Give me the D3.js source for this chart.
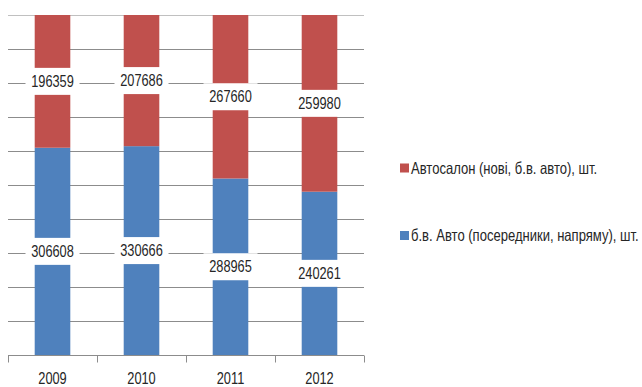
<!DOCTYPE html>
<html>
<head>
<meta charset="utf-8">
<script src="https://cdn.jsdelivr.net/npm/d3@7"></script>
<style>
  body { margin: 0; background: #fff; }
  svg text { font-family: 'Liberation Sans', Arial, sans-serif; fill: #262626; }
</style>
</head>
<body>
<div id="chart"></div>
<script>
const years = ['2009', '2010', '2011', '2012']
const salon = [196359, 207686, 267660, 259980]
const used = [306608, 330666, 288965, 240261]
const seriesNames = ['б.в. Авто (посередники, напряму), шт.', 'Автосалон (нові, б.в. авто), шт.']
const colors = ['#4F81BD', '#C0504D']

const width = 642
const height = 387
const plot = { left: 8, right: 364, top: 15, bottom: 355 }
// the source font is narrow, squeeze a wider one horizontally
const squeeze = 0.8

const rows = years.map((y, i) => ({ year: y, used: used[i], salon: salon[i] }))
const stack = d3.stack().keys(['used', 'salon']).offset(d3.stackOffsetExpand)
const layers = stack(rows)

const x = d3.scaleBand()
  .domain(years)
  .range([plot.left, plot.right])
  .paddingInner(0.6)
  .paddingOuter(0.3)

const y = d3.scaleLinear()
  .domain([0, 1])
  .range([plot.bottom, plot.top])

const svg = d3.select('#chart').append('svg')
  .attr('width', width)
  .attr('height', height)

function label (g, px, py, str, size, anchor) {
  return g.append('text')
    .attr('transform', 'translate(' + px + ',' + py + ') scale(' + squeeze + ',1)')
    .attr('dy', '0.35em')
    .attr('text-anchor', anchor || 'middle')
    .style('font-size', size + 'px')
    .text(str)
}

// gridlines
svg.append('g')
  .selectAll('line')
  .data(d3.range(1, 11).map(d => d / 10))
  .enter().append('line')
  .attr('x1', plot.left)
  .attr('x2', plot.right)
  .attr('y1', d => Math.round(y(d)) + 0.5)
  .attr('y2', d => Math.round(y(d)) + 0.5)
  .attr('stroke', d => d === 1 ? '#c0c0c0' : '#8c8c8c')
  .attr('stroke-width', 1)

// bars
svg.append('g')
  .selectAll('g')
  .data(layers)
  .enter().append('g')
  .attr('fill', (d, i) => colors[i])
  .selectAll('rect')
  .data(d => d)
  .enter().append('rect')
  .attr('x', d => x(d.data.year))
  .attr('width', x.bandwidth())
  .attr('y', d => y(d[1]))
  .attr('height', d => y(d[0]) - y(d[1]))

// x axis
const gx = svg.append('g')
  .attr('transform', 'translate(0,' + (plot.bottom + 0.5) + ')')
gx.append('line')
  .attr('x1', plot.left)
  .attr('x2', plot.right)
  .attr('stroke', '#8c8c8c')
const bounds = [plot.left].concat(years.map(yr => x(yr) + x.bandwidth() / 2 + x.step() / 2))
gx.selectAll('line.sep')
  .data(bounds)
  .enter().append('line')
  .attr('class', 'sep')
  .attr('x1', d => Math.round(d) + 0.5)
  .attr('x2', d => Math.round(d) + 0.5)
  .attr('y1', 0)
  .attr('y2', 7)
  .attr('stroke', '#8c8c8c')

const yearLabels = svg.append('g')
years.forEach(yr => label(yearLabels, x(yr) + x.bandwidth() / 2, 378, yr, 16))

// data labels
const labels = svg.append('g')
layers.forEach(layer => {
  layer.forEach(d => {
    const cx = x(d.data.year) + x.bandwidth() / 2
    const cy = (y(d[0]) + y(d[1])) / 2
    labels.append('rect')
      .attr('x', cx - 27)
      .attr('y', cy - 13.5)
      .attr('width', 54)
      .attr('height', 27)
      .attr('fill', '#fff')
    label(labels, cx, cy, d.data[layer.key], 16)
  })
})

// legend
const legend = svg.append('g')
const legendItems = [
  { name: seriesNames[1], color: colors[1], y: 168 },
  { name: seriesNames[0], color: colors[0], y: 235.5 }
]
legendItems.forEach(item => {
  legend.append('rect')
    .attr('x', 400)
    .attr('y', item.y - 4.5)
    .attr('width', 9)
    .attr('height', 9)
    .attr('fill', item.color)
  label(legend, 411, item.y, item.name, 16.3, 'start')
})
</script>
</body>
</html>
